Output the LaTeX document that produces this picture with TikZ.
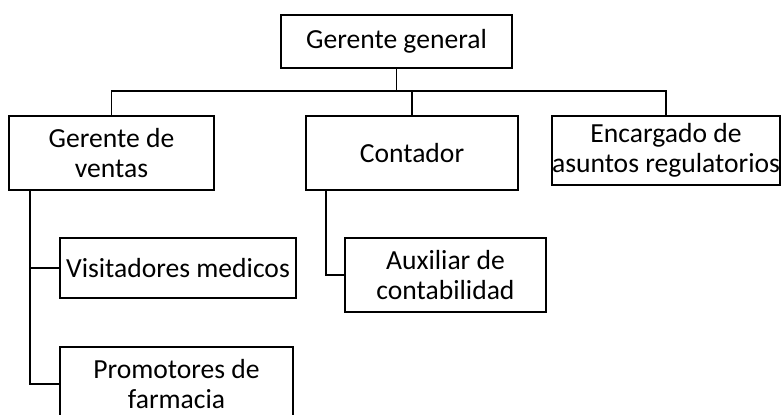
\documentclass[tikz,border=0pt]{standalone}
\usepackage{fontspec}
\setmainfont{Carlito}
\usepackage{tikz}
\usetikzlibrary{positioning}

\begin{document}
\begin{tikzpicture}[
    x=0.5pt, y=-0.5pt,
    box/.style={rectangle, draw, line width=0.8pt, align=center, font=\fontsize{13.8}{15}\selectfont, inner sep=0pt},
    link/.style={line width=0.8pt}
]
\useasboundingbox (0,0) rectangle (784,414);
\clip (0,0) rectangle (784,414);

% Top level
\node[box, minimum width=115.5pt, minimum height=26.5pt] (gg) at (396.5,41.5) {Gerente general};

% Second level
\node[box, minimum width=102.5pt, minimum height=37pt] (ventas) at (111.5,153) {Gerente de\\ventas};
\node[box, minimum width=106pt, minimum height=37pt] (contador) at (412,153) {Contador};
\node[box, minimum width=114pt, minimum height=34.5pt] (encargado) at (666,150.5) {Encargado de\\asuntos regulatorios};

% Third level
\node[box, minimum width=118pt, minimum height=30pt] (visit) at (178,268) {Visitadores medicos};
\node[box, minimum width=116.5pt, minimum height=37pt] (promo) at (176.5,384) {Promotores de\\farmacia};
\node[box, minimum width=100.5pt, minimum height=37pt] (aux) at (445.5,275) {Auxiliar de\\contabilidad};

% Bus under the top box
\coordinate (bus) at (0,91);
\draw[link] (gg.south) -- (gg.south |- bus);
\draw[link] (ventas.north) -- (ventas.north |- bus) -| (encargado.north);
\draw[link] (contador.north) -- (contador.north |- bus);

% Sales branch
\draw[link] ([xshift=11pt]ventas.south west) |- (promo.west);
\draw[link] ([xshift=11pt]ventas.south west |- visit.west) -- (visit.west);

% Accounting branch
\draw[link] ([xshift=10.5pt]contador.south west) |- (aux.west);

\end{tikzpicture}
\end{document}
